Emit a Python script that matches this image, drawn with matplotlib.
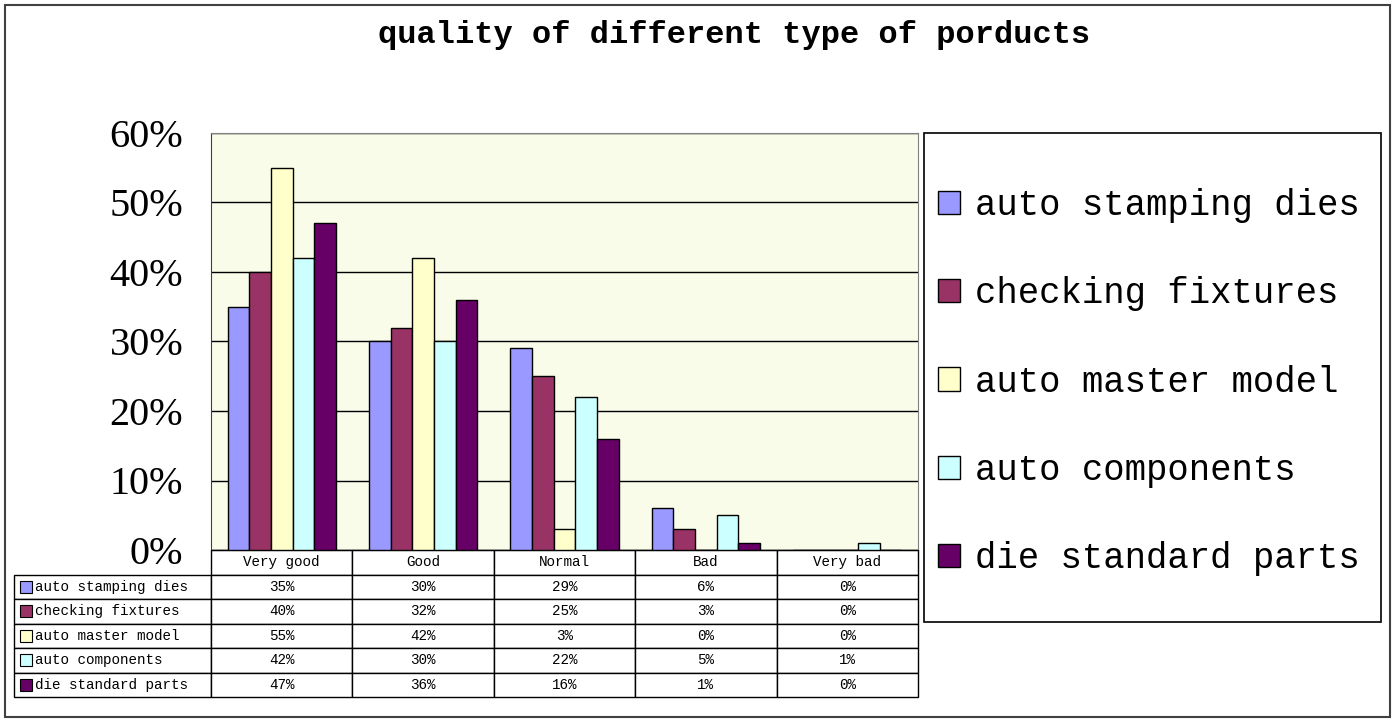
import numpy as np
import matplotlib
matplotlib.use('Agg')
import matplotlib.pyplot as plt
from matplotlib.patches import Rectangle
from matplotlib.table import Table

# data
categories = ['Very good', 'Good', 'Normal', 'Bad', 'Very bad']
series_names = ['auto stamping dies', 'checking fixtures', 'auto master model',
                'auto components', 'die standard parts']
auto_stamping_dies = [35, 30, 29, 6, 0]
checking_fixtures = [40, 32, 25, 3, 0]
auto_master_model = [55, 42, 3, 0, 0]
auto_components = [42, 30, 22, 5, 1]
die_standard_parts = [47, 36, 16, 1, 0]
yticks = [0, 10, 20, 30, 40, 50, 60]

data = [auto_stamping_dies, checking_fixtures, auto_master_model,
        auto_components, die_standard_parts]
colors = ['#9999FF', '#993366', '#FFFFCC', '#CCFFFF', '#660066']

W, H = 1395, 722
fig = plt.figure(figsize=(W / 100, H / 100), dpi=100)

# outer chart frame
fig.patches.append(Rectangle((5 / W, 5 / H), 1385 / W, 712 / H, transform=fig.transFigure,
                             fill=False, edgecolor='#404040', lw=1.5))

ax = fig.add_axes([211 / W, (H - 550) / H, 707 / W, 417 / H])
ax.set_facecolor('#F8FCE8')

x = np.arange(len(categories))
w = 0.153
for j, (name, vals) in enumerate(zip(series_names, data)):
    ax.bar(x + (j - 2) * w, vals, w, color=colors[j], edgecolor='black',
           linewidth=1, label=name, zorder=3)

ax.set_xlim(-0.5, len(categories) - 0.5)
ax.set_ylim(0, 60)
ax.set_yticks(yticks)
ax.set_yticklabels([f'{t}%' for t in yticks], fontfamily='Liberation Serif', fontsize=29)
ax.tick_params(axis='y', length=0, pad=20)
ax.set_xticks([])
ax.yaxis.grid(True, color='black', lw=1)
ax.set_axisbelow(True)
for s in ['top', 'right']:
    ax.spines[s].set_color('#808080')
ax.spines['left'].set_color('#404040')
ax.spines['bottom'].set_color('black')

# data table under the plot (bbox covers the value columns, labels hang to the left)
cw = 141.4 / 707
lw_ = 197 / 707
rh = 1 / 6
tbl = Table(ax, bbox=[0, -147 / 417, 1, 147 / 417])
for c, cat in enumerate(categories):
    tbl.add_cell(0, c, cw, rh, text=cat, loc='center', facecolor='white')
for r, (name, vals) in enumerate(zip(series_names, data), start=1):
    cell = tbl.add_cell(r, -1, lw_, rh, text='  ' + name, loc='left', facecolor='white')
    cell.PAD = 0.02
    for c, v in enumerate(vals):
        tbl.add_cell(r, c, cw, rh, text=f'{v}%', loc='center', facecolor='white')
tbl.auto_set_font_size(False)
tbl.set_fontsize(10.3)
for cell in tbl.get_celld().values():
    cell.set_edgecolor('black')
    cell.set_linewidth(1)
    cell.get_text().set_fontfamily('Liberation Mono')
ax.add_table(tbl)

# colour keys in the row labels
rhx = 147 / 417 / 6
for i, col in enumerate(colors):
    yc = -(i + 1.5) * rhx
    ax.add_patch(Rectangle(((20 - 211) / 707, yc - 6 / 417), 12 / 707, 12 / 417,
                           transform=ax.transAxes, facecolor=col, edgecolor='black',
                           lw=0.8, clip_on=False, zorder=5))

fig.text(734 / W, 1 - 35 / H, 'quality of different type of porducts', ha='center', va='center',
         fontsize=23, fontweight='bold', family='Liberation Mono')

# legend with its own box
fig.patches.append(Rectangle((924 / W, (H - 622) / H), 457 / W, 489 / H, transform=fig.transFigure,
                             fill=False, edgecolor='black', lw=1.2))
fig.legend(loc='center left', bbox_to_anchor=(938 / W, (H - 382) / H), frameon=False,
           prop={'family': 'Liberation Mono', 'size': 25.7},
           handlelength=0.62, handleheight=0.62, handletextpad=0.42,
           labelspacing=1.49, borderpad=0, borderaxespad=0)

fig.savefig('out.png', dpi=100)
